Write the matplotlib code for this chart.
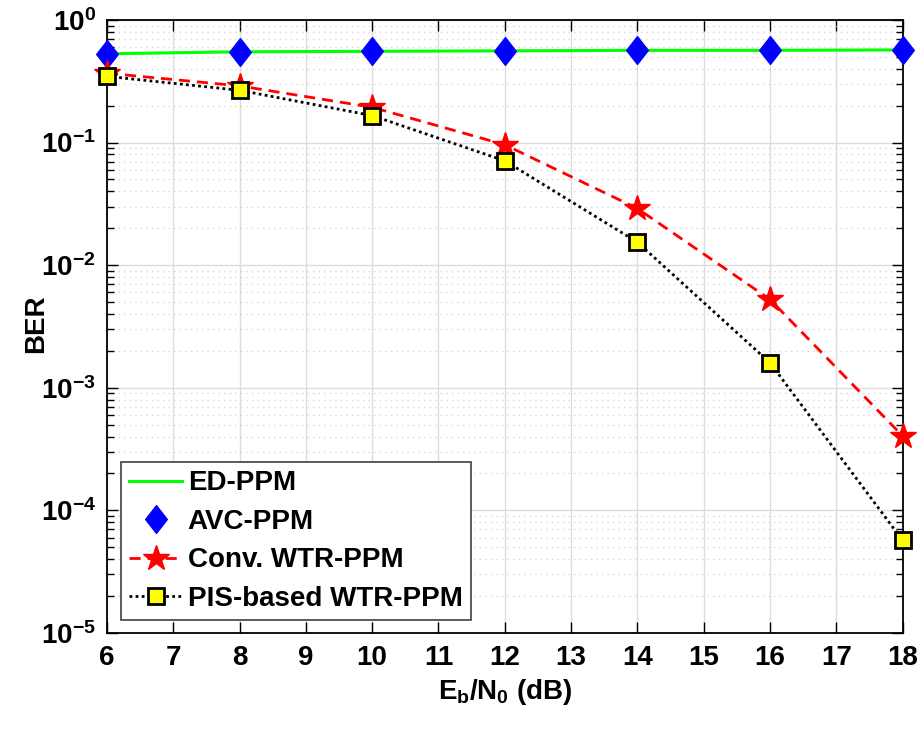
import numpy as np
import matplotlib
matplotlib.use("Agg")
import matplotlib.pyplot as plt
from matplotlib.path import Path
from matplotlib.ticker import LogLocator, NullFormatter

plt.rcParams['font.family'] = ['Liberation Sans', 'DejaVu Sans']
plt.rcParams['font.weight'] = 'bold'
plt.rcParams['mathtext.fontset'] = 'custom'
plt.rcParams['mathtext.rm'] = 'Liberation Sans:bold'
plt.rcParams['mathtext.it'] = 'Liberation Sans:bold'
plt.rcParams['mathtext.bf'] = 'Liberation Sans:bold'

snr = [6, 8, 10, 12, 14, 16, 18]
ber_ed = [0.53, 0.55, 0.555, 0.56, 0.565, 0.565, 0.57]
ber_conv = [0.368, 0.29, 0.194, 0.096, 0.029, 5.26e-3, 4.05e-4]
ber_pis = [0.347, 0.267, 0.166, 0.071, 0.0154, 1.6e-3, 5.7e-5]

ytick_vals = [1e-5, 1e-4, 1e-3, 1e-2, 1e-1, 1e0]
ytick_labels = ['$10^{-5}$', '$10^{-4}$', '$10^{-3}$', '$10^{-2}$', '$10^{-1}$', '$10^{0}$']

# MATLAB-like diamond (a bit taller than wide)
diamond = Path([(0, 1), (0.78, 0), (0, -1), (-0.78, 0), (0, 1)],
               [Path.MOVETO, Path.LINETO, Path.LINETO, Path.LINETO, Path.CLOSEPOLY])

fig = plt.figure(figsize=(9.24, 7.29), dpi=100)
ax = fig.add_axes([0.1158, 0.1317, 0.861, 0.8409])

ax.plot(snr, ber_ed, color='#00ff00', lw=2.2, label='ED-PPM', zorder=3)
ax.plot(snr, ber_ed, ls='none', marker=diamond, ms=20, color='#0000ff',
        mec='#0000ff', label='AVC-PPM', zorder=4, clip_on=False)
ax.plot(snr, ber_conv, color='#ff0000', ls=(0, (4, 2.5)), lw=2, marker='*', ms=19,
        mec='#ff0000', label='Conv. WTR-PPM', zorder=4, clip_on=False)
ax.plot(snr, ber_pis, color='black', ls=(0, (1, 1.2)), lw=2, marker='s', ms=12,
        mfc='#ffff00', mec='black', mew=2, label='PIS-based WTR-PPM', zorder=5,
        clip_on=False)

ax.set_yscale('log')
ax.set_xlim(6, 18)
ax.set_ylim(1e-5, 1e0)
ax.set_xticks(range(6, 19))
ax.set_yticks(ytick_vals)
ax.set_yticklabels(ytick_labels)
ax.yaxis.set_minor_locator(LogLocator(base=10, subs=np.arange(2, 10), numticks=20))
ax.yaxis.set_minor_formatter(NullFormatter())

ax.grid(True, which='major', color='#dcdcdc', lw=1, ls='-', zorder=0)
ax.grid(True, which='minor', axis='y', color='#d8d8d8', lw=1, ls=(0, (1, 3)), zorder=0)
ax.set_axisbelow(True)

ax.tick_params(axis='both', which='both', direction='in', top=True, right=True,
               labelsize=20, width=1, color='black')
ax.tick_params(which='major', length=8)
ax.tick_params(which='minor', length=5)
ax.tick_params(axis='x', pad=9)
ax.tick_params(axis='y', pad=8)
for s in ax.spines.values():
    s.set_linewidth(1.3)

ax.set_xlabel('$E_b/N_0$ (dB)', fontsize=20, fontweight='bold', labelpad=4)
ax.set_ylabel('BER', fontsize=20, fontweight='bold')
ax.yaxis.set_label_coords(-0.073, 0.505)

leg = ax.legend(loc='lower left', bbox_to_anchor=(0.0176, 0.021), borderaxespad=0,
                fontsize=20, handlelength=1.9, handletextpad=0.2, labelspacing=0.45,
                borderpad=0.3, fancybox=False, framealpha=1, edgecolor='#404040')
leg.get_frame().set_linewidth(1.2)

fig.savefig('out.png', dpi=100)
